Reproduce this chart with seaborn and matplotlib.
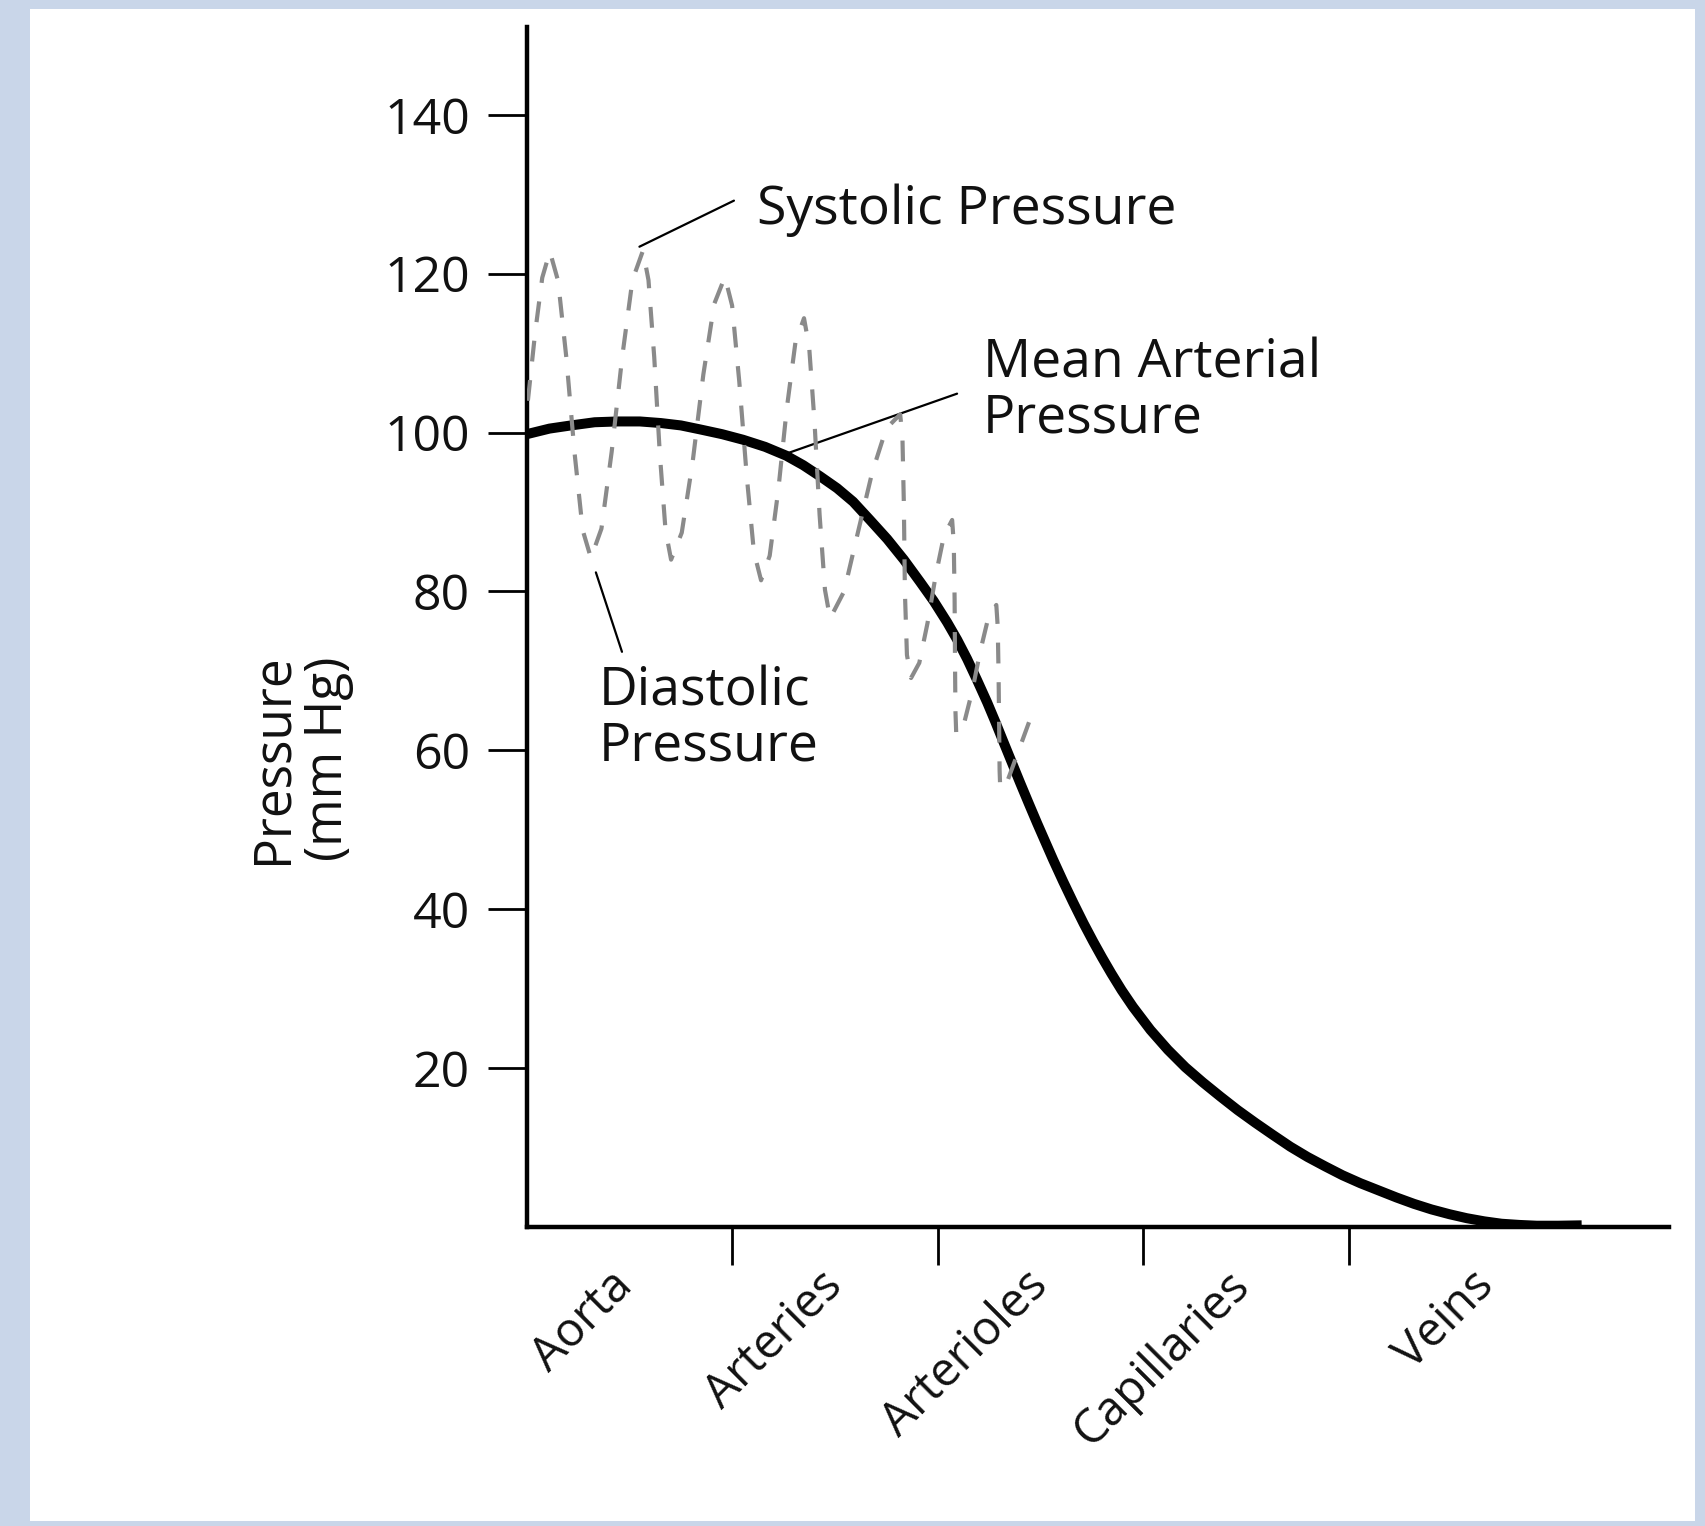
"""
Pressure along the systemic circulation: mean arterial pressure (solid)
and the systolic / diastolic oscillation (dashed) drawn with seaborn.
"""

import matplotlib
matplotlib.use('Agg')
import matplotlib.pyplot as plt
from matplotlib.patches import Rectangle
import seaborn as sns

# Categories along the x axis (label positions in segment units)
CATEGORIES = ['Aorta', 'Arteries', 'Arterioles', 'Capillaries', 'Veins']
CATEGORY_POS = [0.48, 1.5, 2.5, 3.48, 4.67]
SEGMENT_TICKS = [1, 2, 3, 4]
Y_TICKS = [20, 40, 60, 80, 100, 120, 140]

# Mean arterial pressure (mm Hg)
MAP_X = [0.000, 0.110, 0.215, 0.330, 0.443, 0.550, 0.652, 0.750, 0.843, 0.950,
         1.052, 1.160, 1.262, 1.345, 1.427, 1.510, 1.588, 1.670, 1.754, 1.835,
         1.914, 1.980, 2.046, 2.095, 2.143, 2.192, 2.241, 2.280, 2.319, 2.360,
         2.401, 2.443, 2.484, 2.523, 2.562, 2.610, 2.660, 2.710, 2.757, 2.800,
         2.845, 2.895, 2.950, 3.035, 3.120, 3.205, 3.290, 3.376, 3.460, 3.546,
         3.630, 3.716, 3.800, 3.887, 3.970, 4.057, 4.145, 4.233, 4.318, 4.403,
         4.490, 4.574, 4.660, 4.744, 4.830, 4.915, 5.020, 5.134]
MAP_Y = [99.8, 100.5, 100.9, 101.3, 101.4, 101.4, 101.2, 100.9, 100.4, 99.8,
         99.1, 98.2, 97.1, 95.9, 94.5, 93.0, 91.3, 89.0, 86.6, 84.0,
         81.2, 78.8, 76.1, 73.9, 71.5, 68.8, 66.0, 63.6, 61.1, 58.5,
         55.9, 53.3, 50.8, 48.5, 46.2, 43.5, 40.8, 38.2, 35.9, 33.9,
         31.9, 29.8, 27.7, 24.8, 22.3, 20.1, 18.2, 16.4, 14.7, 13.1,
         11.6, 10.1, 8.8, 7.6, 6.5, 5.5, 4.6, 3.7, 2.9, 2.2,
         1.6, 1.1, 0.7, 0.4, 0.25, 0.15, 0.15, 0.2]

# Systolic / diastolic pressure wave (mm Hg)
WAVE_X = [0.005, 0.040, 0.075, 0.112,
          0.152, 0.192, 0.232, 0.272, 0.312,
          0.363, 0.413, 0.464, 0.514, 0.565,
          0.592, 0.620, 0.647, 0.675, 0.702,
          0.754, 0.807, 0.859, 0.912, 0.964,
          0.999, 1.034, 1.070, 1.105, 1.140,
          1.182, 1.224, 1.265, 1.307, 1.349,
          1.374, 1.400, 1.425, 1.451, 1.476,
          1.544, 1.612, 1.681, 1.749, 1.817,
          1.828, 1.835, 1.840, 1.850, 1.870,
          1.910, 1.950, 1.990, 2.030, 2.070,
          2.078, 2.082, 2.084, 2.086, 2.090,
          2.129, 2.168, 2.207, 2.246, 2.285,
          2.292, 2.296, 2.299, 2.301, 2.304,
          2.340, 2.380, 2.445]
WAVE_Y = [104.0, 112.5, 119.5, 122.8,
          119.1, 109.5, 97.5, 87.7, 84.2,
          87.9, 97.6, 109.5, 119.2, 122.9,
          119.2, 109.5, 97.4, 87.7, 84.0,
          87.4, 96.3, 107.3, 116.2, 119.6,
          116.0, 106.4, 94.6, 85.0, 81.4,
          84.5, 92.8, 103.0, 111.3, 114.4,
          110.8, 101.4, 89.6, 80.2, 76.6,
          80.0, 87.5, 95.0, 100.5, 102.3,
          99.5, 91.0, 80.0, 72.0, 69.1,
          71.0, 76.0, 82.0, 87.0, 89.0,
          86.0, 79.0, 71.0, 65.0, 62.0,
          63.5, 67.5, 72.5, 76.7, 78.3,
          75.5, 69.5, 62.5, 57.5, 55.2,
          56.2, 59.0, 63.6]

BG_COLOR = '#c9d6e9'
WAVE_COLOR = '#8a8a8a'

sns.set_theme(style='white')
plt.rcParams['font.family'] = ['Open Sans', 'DejaVu Sans']

fig = plt.figure(figsize=(17.05, 15.26), dpi=100, facecolor=BG_COLOR)
# white panel on the blue background
fig.patches.append(Rectangle((0.0176, 0.003), 0.9765, 0.9911,
                             transform=fig.transFigure, facecolor='white',
                             edgecolor='none', zorder=-1))

ax = fig.add_axes([0.309, 0.196, 0.670, 0.786])
ax.set_facecolor('white')

# Mean arterial pressure
sns.lineplot(x=MAP_X, y=MAP_Y, ax=ax, color='black', linewidth=7.2,
             sort=False, estimator=None, solid_capstyle='butt',
             solid_joinstyle='round', zorder=3)

# Systolic / diastolic oscillation (dashed, on top)
sns.lineplot(x=WAVE_X, y=WAVE_Y, ax=ax, color=WAVE_COLOR, linewidth=3.0,
             sort=False, estimator=None, zorder=4)
ax.lines[-1].set_linestyle((0, (5, 4.5)))
ax.lines[-1].set_dash_capstyle('butt')

ax.set_xlim(0, 5.56)
ax.set_ylim(0, 151)

for side in ['top', 'right']:
    ax.spines[side].set_visible(False)
for side in ['left', 'bottom']:
    ax.spines[side].set_linewidth(3.2)
    ax.spines[side].set_color('black')

# y axis
ax.set_yticks(Y_TICKS)
ax.set_yticklabels([str(v) for v in Y_TICKS])
ax.tick_params(axis='y', direction='out', length=28, width=2, pad=13,
               labelsize=36, color='black', labelcolor='#111111', left=True)
ax.set_ylabel('Pressure\n(mm Hg)', fontsize=37, color='#111111', linespacing=1.1)
ax.yaxis.label.set_verticalalignment('center')
ax.yaxis.set_label_coords(-0.198, 0.39)

# x axis: visible ticks at the segment boundaries, labels between them
ax.set_xticks(CATEGORY_POS)
ax.set_xticklabels(CATEGORIES, rotation=45, ha='right', va='center',
                   rotation_mode='anchor', fontsize=34, color='#111111')
ax.tick_params(axis='x', which='major', length=0, pad=37, bottom=True)
ax.set_xticks(SEGMENT_TICKS, minor=True)
ax.tick_params(axis='x', which='minor', direction='out', length=27, width=2,
               color='black', bottom=True)
ax.set_xlabel('')

# annotations (y is the baseline of the last text line)
text_kw = dict(fontsize=38.5, color='#111111', ha='left', va='baseline',
               linespacing=1.05)
line_kw = dict(arrowstyle='-', color='black', lw=1.6, shrinkA=0, shrinkB=0)

ax.text(1.12, 126.2, 'Systolic Pressure', **text_kw)
ax.annotate('', xy=(0.548, 123.4), xytext=(1.008, 129.2), arrowprops=line_kw)

ax.text(2.221, 100.0, 'Mean Arterial\nPressure', **text_kw)
ax.annotate('', xy=(1.247, 97.2), xytext=(2.094, 104.9), arrowprops=line_kw)

ax.text(0.351, 58.7, 'Diastolic\nPressure', **text_kw)
ax.annotate('', xy=(0.336, 82.4), xytext=(0.463, 72.4), arrowprops=line_kw)

fig.savefig('out.png', dpi=100, facecolor=fig.get_facecolor())
